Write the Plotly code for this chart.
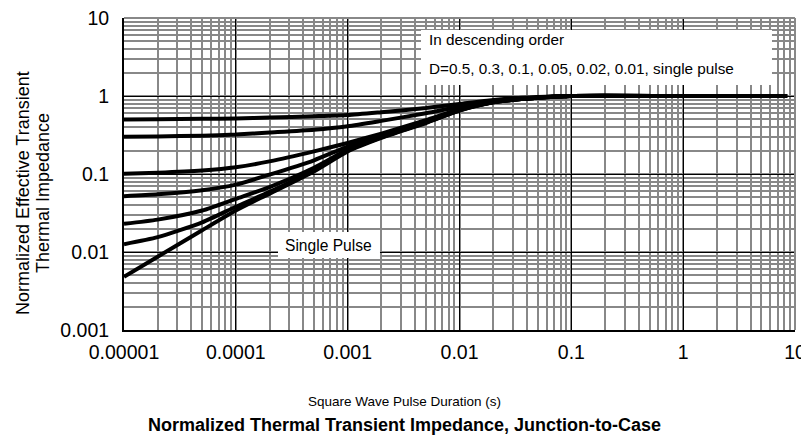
import plotly.graph_objects as go

# ---- data ----
pulse_s = [1e-5, 2e-5, 5e-5, 1e-4, 2e-4, 5e-4, 1e-3, 2e-3, 5e-3, 1e-2, 2e-2, 5e-2, 1e-1, 1, 8.5]
z_d050 = [0.50, 0.505, 0.51, 0.515, 0.53, 0.55, 0.57, 0.62, 0.70, 0.79, 0.89, 0.97, 1.0, 1.0, 1.0]
z_d030 = [0.30, 0.303, 0.31, 0.32, 0.34, 0.37, 0.41, 0.48, 0.60, 0.73, 0.86, 0.96, 1.0, 1.0, 1.0]
z_d010 = [0.101, 0.104, 0.111, 0.122, 0.145, 0.195, 0.25, 0.33, 0.49, 0.68, 0.84, 0.95, 1.0, 1.0, 1.0]
z_d005 = [0.052, 0.055, 0.062, 0.073, 0.098, 0.15, 0.225, 0.31, 0.47, 0.67, 0.84, 0.95, 1.0, 1.0, 1.0]
z_d002 = [0.023, 0.026, 0.034, 0.048, 0.068, 0.12, 0.205, 0.30, 0.46, 0.66, 0.83, 0.95, 1.0, 1.0, 1.0]
z_d001 = [0.0126, 0.0155, 0.024, 0.038, 0.059, 0.112, 0.20, 0.295, 0.455, 0.655, 0.83, 0.95, 1.0, 1.0, 1.0]
z_single = [0.0048, 0.0087, 0.019, 0.034, 0.056, 0.108, 0.195, 0.29, 0.45, 0.65, 0.83, 0.95, 1.0, 1.0, 1.0]

series = [
    ("D=0.5", z_d050), ("D=0.3", z_d030), ("D=0.1", z_d010), ("D=0.05", z_d005),
    ("D=0.02", z_d002), ("D=0.01", z_d001), ("Single Pulse", z_single),
]

x_tickvals = [1e-5, 1e-4, 1e-3, 1e-2, 1e-1, 1, 10]
x_ticktext = ["0.00001", "0.0001", "0.001", "0.01", "0.1", "1", "10"]
y_tickvals = [0.001, 0.01, 0.1, 1, 10]
y_ticktext = ["0.001", "0.01", "0.1", "1", "10"]

FONT = "Liberation Sans, Arial, sans-serif"

fig = go.Figure()
for name, vals in series:
    fig.add_trace(go.Scatter(x=pulse_s, y=vals, mode="lines", name=name,
                             line=dict(color="black", width=4, shape="spline", smoothing=0.6)))

axis_common = dict(
    type="log", showgrid=True, gridcolor="black", gridwidth=1,
    showline=True, linecolor="black", linewidth=2, ticks="", zeroline=False,
    automargin=False, ticklabeloverflow="allow",
    tickfont=dict(family=FONT, size=19.5, color="black"),
    minor=dict(dtick="D1", showgrid=True, gridcolor="#888888", gridwidth=1.9, ticks=""),
)

fig.update_xaxes(range=[-5, 1], tickmode="array", tickvals=x_tickvals, ticktext=x_ticktext,
                 ticklabelstandoff=4, **axis_common)
fig.update_yaxes(range=[-3, 1], tickmode="array", tickvals=y_tickvals, ticktext=y_ticktext,
                 ticklabelstandoff=9, **axis_common)

# the page body has an 8px margin: margins are offset by 8px so the plot lands where the reference has it
fig.update_layout(
    width=809, height=441,
    margin=dict(l=116, r=22, t=10, b=119),
    paper_bgcolor="white", plot_bgcolor="white",
    showlegend=False,
    font=dict(family=FONT, color="black"),
    shapes=[
        dict(type="rect", xref="paper", yref="paper", x0=0.4426, x1=0.9657, y0=0.785, y1=0.9615,
             fillcolor="white", line=dict(width=0), layer="above"),
        dict(type="rect", xref="paper", yref="paper", x0=0.2295, x1=0.3815, y0=0.2308, y1=0.3141,
             fillcolor="white", line=dict(width=0), layer="above"),
        dict(type="line", xref="paper", yref="paper", x0=0, x1=1, y0=1, y1=1,
             line=dict(color="#888888", width=2), layer="above"),
        dict(type="line", xref="paper", yref="paper", x0=1, x1=1, y0=0, y1=1,
             line=dict(color="#888888", width=2), layer="above"),
    ],
    annotations=[
        dict(text="In descending order", xref="paper", yref="paper", x=0.4516, y=0.9295,
             xanchor="left", yanchor="middle", showarrow=False,
             font=dict(family=FONT, size=15.3, color="black")),
        dict(text="D=0.5, 0.3, 0.1, 0.05, 0.02, 0.01, single pulse", xref="paper", yref="paper",
             x=0.4516, y=0.8397, xanchor="left", yanchor="middle", showarrow=False,
             font=dict(family=FONT, size=15.3, color="black")),
        dict(text="Single Pulse", xref="paper", yref="paper", x=0.3055, y=0.2724,
             xanchor="center", yanchor="middle", showarrow=False,
             font=dict(family=FONT, size=15.6, color="black")),
        dict(text="Normalized Effective Transient", xref="paper", yref="paper",
             x=-0.1505, y=0.439, textangle=-90, xanchor="center", yanchor="middle", showarrow=False,
             font=dict(family=FONT, size=18, color="black")),
        dict(text="Thermal Impedance", xref="paper", yref="paper",
             x=-0.1207, y=0.439, textangle=-90, xanchor="center", yanchor="middle", showarrow=False,
             font=dict(family=FONT, size=18, color="black")),
        dict(text="Square Wave Pulse Duration (s)", xref="paper", yref="paper", x=0.4173, y=-0.2276,
             xanchor="center", yanchor="middle", showarrow=False,
             font=dict(family=FONT, size=13.5, color="black")),
        dict(text="<b>Normalized Thermal Transient Impedance, Junction-to-Case</b>", xref="paper", yref="paper",
             x=0.4173, y=-0.3045, xanchor="center", yanchor="middle", showarrow=False,
             font=dict(family=FONT, size=18, color="black")),
    ],
)

fig.write_html("out.html")
